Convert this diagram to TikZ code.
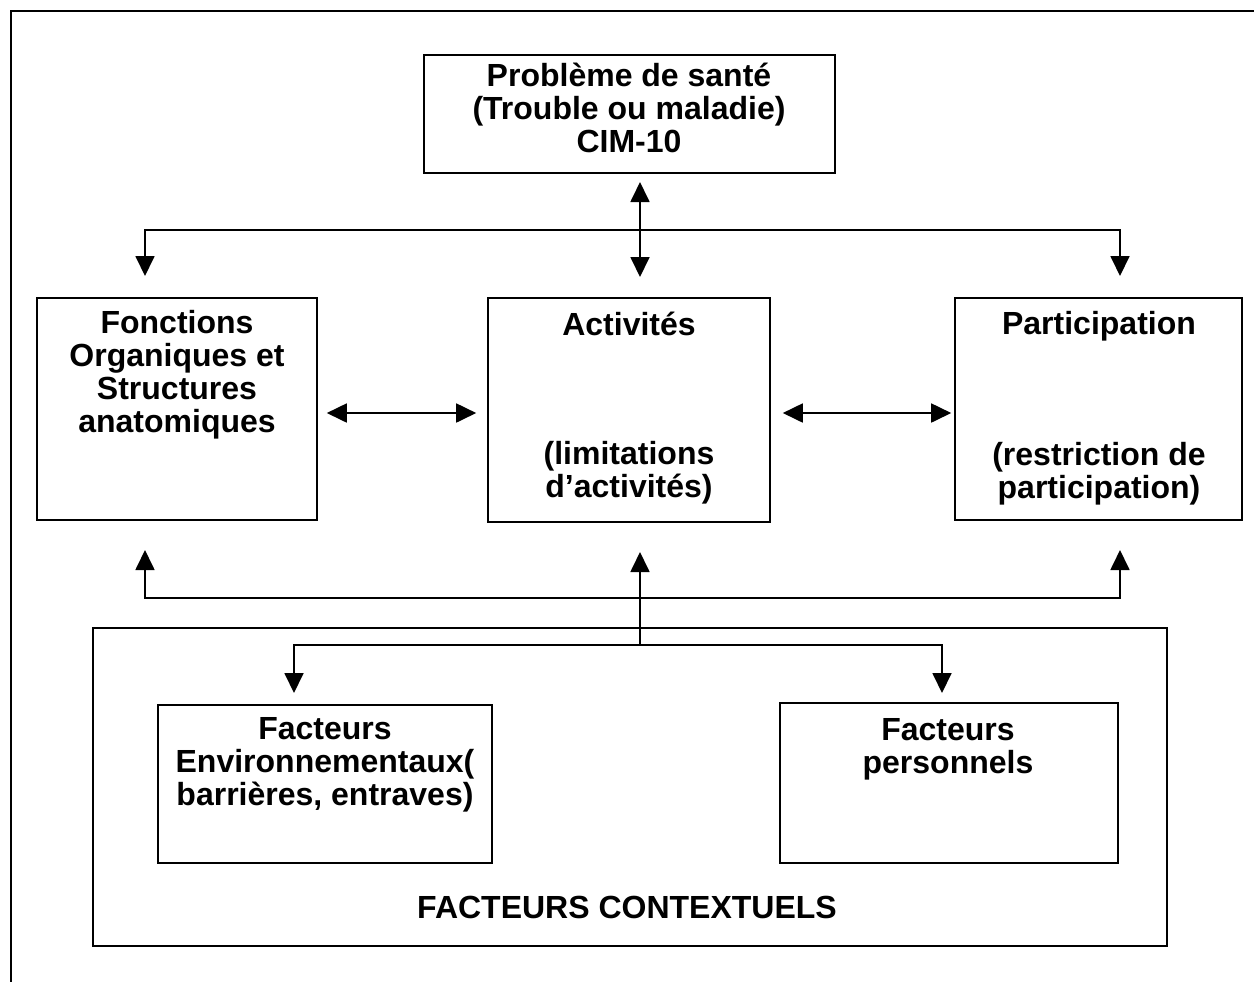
\documentclass[tikz,border=0pt]{standalone}
\usepackage{fontspec}
\setmainfont{Liberation Sans}
\usetikzlibrary{arrows.meta}
\begin{document}
\begin{tikzpicture}[x=0.5pt,y=-0.5pt,
  box/.style={draw, line width=0.8pt, inner sep=0pt},
  lbl/.style={font=\bfseries\fontsize{16}{16.5}\selectfont, align=center, inner sep=0pt},
  conn/.style={line width=0.9pt},
  tip/.style={-{Triangle[width=9.5pt,length=10pt]}},
  tips/.style={{Triangle[width=9.5pt,length=10pt]}-{Triangle[width=9.5pt,length=10pt]}}]
\useasboundingbox (0,0) rectangle (1254,982);
% outer frame (open on the right and at the bottom)
\draw[line width=1pt] (1254,11) -- (11,11) -- (11,982);

% boxes
\node[box, minimum width=205.5pt, minimum height=59pt] (sante) at (629.5,114) {};
\node[box, minimum width=140pt, minimum height=111pt] (fonc) at (177,409) {};
\node[box, minimum width=141pt, minimum height=112pt] (act) at (629,410) {};
\node[box, minimum width=143.5pt, minimum height=111pt] (part) at (1098.5,409) {};
\node[box, minimum width=537pt, minimum height=159pt] (ctx) at (630,787) {};
\node[box, minimum width=167pt, minimum height=79pt] (env) at (325,784) {};
\node[box, minimum width=169pt, minimum height=80pt] (pers) at (949,783) {};

% texts
\node[lbl] (tsante) at (629,108) {Problème de santé\\(Trouble ou maladie)\\CIM-10};
\node[lbl] (tfonc) at (177,375) {Fonctions\\Organiques et\\Structures\\anatomiques};
\node[lbl] (tact) at (629,324) {Activités};
\node[lbl] (tact2) at (629,473) {(limitations\\d’activités)};
\node[lbl] (tpart) at (1099,326) {Participation};
\node[lbl] (tpart2) at (1099,474) {(restriction de\\participation)};
\node[lbl] (tenv) at (325,765) {Facteurs\\Environnementaux(\\barrières, entraves)};
\node[lbl] (tpers) at (948,749) {Facteurs\\personnels};
\node[lbl] (tctx) at (627,907) {FACTEURS CONTEXTUELS};

% junction points of the connectors
\coordinate (santeBot) at (640,182);
\coordinate (hub) at (640,230);
\coordinate (actTop) at (640,277);
\coordinate (foncTop) at (145,276);
\coordinate (partTop) at (1120,276);
\coordinate (low) at (640,598);
\coordinate (foncBot) at (145,550);
\coordinate (partBot) at (1120,550);
\coordinate (actBot) at (640,552);
\coordinate (ctxHub) at (640,645);
\coordinate (envTop) at (294,693);
\coordinate (persTop) at (942,693);

% upper connectors
\draw[conn, tips] (santeBot) -- (actTop);
\draw[conn, tip] (hub) -| (foncTop);
\draw[conn, tip] (hub) -| (partTop);

% horizontal links between the middle boxes
\draw[conn, tips, shorten <=4.5pt, shorten >=5.5pt] ([yshift=-2pt]fonc.east) -- ([yshift=-1.5pt]act.west);
\draw[conn, tips, shorten <=6pt, shorten >=1.5pt] ([yshift=-1.5pt]act.east) -- ([yshift=-2pt]part.west);

% lower connectors
\draw[conn, tip] (low) -| (foncBot);
\draw[conn, tip] (low) -| (partBot);
\draw[conn, tip] (ctxHub) -- (actBot);
\draw[conn, tip] (ctxHub) -| (envTop);
\draw[conn, tip] (ctxHub) -| (persTop);
\end{tikzpicture}
\end{document}
